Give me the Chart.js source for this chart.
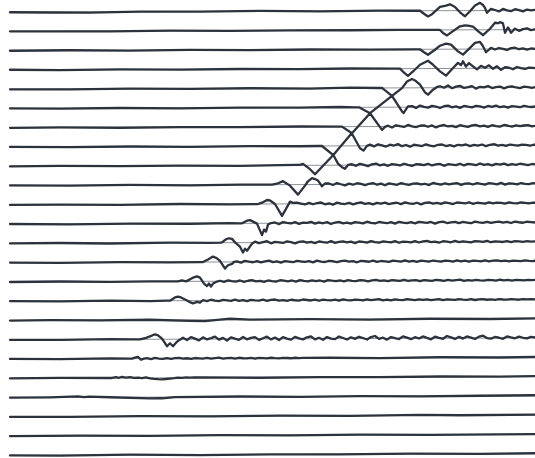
<!DOCTYPE html>
<html>
<head>
<meta charset="utf-8">
<script src="https://cdn.jsdelivr.net/npm/chart.js@4.4.1/dist/chart.umd.min.js"></script>
<style>
  html, body { margin: 0; padding: 0; background: #ffffff; }
  #wrap { width: 535px; height: 458px; }
</style>
</head>
<body>
<div id="wrap"><canvas id="c" width="535" height="458"></canvas></div>
<script>
// ---- DATA: 24 traces of a seismic record (trace 1 at top) ----
// times in ms, amplitudes in counts (positive = up)

// slow background undulation of each trace [time, amplitude]
const wobble = [
  [[10,0],[50,-0.4],[90,-0.6],[140,0.2],[200,0],[260,0.4],[320,-0.2],[380,0.3],[415,0]],
  [[10,0.2],[60,0],[110,-0.3],[170,0.3],[230,-0.2],[290,0.2],[350,0],[400,0.3],[435,0]],
  [[10,0],[70,0.3],[130,-0.2],[190,0.2],[250,-0.3],[310,0.2],[370,-0.2],[415,0]],
  [[10,0.3],[60,-0.2],[120,0.3],[180,-0.3],[240,0.2],[300,-0.2],[350,0.3],[395,0]],
  [[10,0],[70,-0.3],[130,0.3],[190,-0.2],[250,0.2],[310,-0.3],[350,0.4],[378,0]],
  [[10,0.2],[60,-0.2],[120,0.2],[180,-0.4],[240,0.2],[300,0],[340,0.4],[356,0]],
  [[10,0],[60,0.3],[120,-0.3],[180,0.2],[240,-0.2],[300,0.3],[338,0]],
  [[10,0.2],[70,-0.2],[130,0.2],[190,-0.4],[250,0.2],[300,-0.2],[318,0]],
  [[10,0],[60,0.3],[120,-0.2],[180,0.2],[240,-0.3],[280,0.2],[297,0.4]],
  [[10,0.2],[70,-0.2],[130,0.3],[190,-0.3],[240,0.2],[268,0]],
  [[10,0],[60,0.2],[120,-0.3],[180,0.3],[230,-0.2],[255,0]],
  [[10,0.2],[70,-0.3],[130,0.2],[190,-0.2],[230,0.3],[240,0]],
  [[10,0],[60,0.3],[110,-0.4],[170,0.2],[210,-0.2],[220,0]],
  [[10,0.2],[60,-0.3],[120,0.3],[170,-0.2],[200,0]],
  [[10,0],[60,0.3],[110,-0.3],[150,0.2],[175,0]],
  [[10,0.2],[60,-0.2],[110,0.3],[150,-0.3],[167,0]],
  [[10,0],[50,0.3],[100,-0.2],[150,0.3],[190,-1],[205,-1.3],[220,0.2],[230,1],[250,0],[310,0.4],[370,-0.3],[430,0.3],[490,-0.2],[535,0.2]],
  [[10,0],[60,-0.3],[110,0.3],[137,0]],
  [[10,0.2],[60,-0.2],[110,0.3],[130,0],[330,0.2],[380,-0.3],[440,0.3],[500,-0.2],[535,0.2]],
  [[10,0],[60,0.3],[108,0],[200,0.3],[260,-0.3],[320,0.2],[380,-0.2],[440,0.3],[500,0],[535,0.3]],
  [[10,0],[50,0.2],[78,0.9],[84,0.2],[89,0.8],[110,0],[150,-1.3],[162,-1.2],[175,0],[240,0.3],[300,-0.2],[360,0.3],[420,-0.3],[480,0.2],[535,0.5]],
  [[10,0],[70,-0.3],[140,0.2],[210,-0.3],[280,0.2],[350,-0.2],[420,0.6],[460,0],[535,0.3]],
  [[10,0],[80,0.3],[150,-0.3],[220,0.2],[290,-0.2],[360,0.3],[430,-0.2],[535,0.2]],
  [[10,0],[60,-0.3],[130,0.3],[200,-0.3],[270,0.2],[340,-0.2],[410,0.3],[480,-0.2],[535,0.3]]
];

// first-arrival wavelets [time, amplitude]
const wavelets = [
  [[420,0],[424,-3],[428,-5.7],[432,-3.5],[435,-0.7],[440,3.7],[446,5],[450,6.3],[455,3.7],[460,-1.7],[465,-5.7],[470,-0.7],[475,5],[480,7.7],[483,5.5],[485,2.7],[487,-2.3],[491,1.7]],
  [[440,0],[443,-3],[447,-5.5],[453,-1.2],[460,3.6],[465,4.5],[468,4.2],[473,3.3],[478,-1.4],[483,-5.4],[490,1],[495,7],[498,6.5],[500,7.6],[503,6.3],[505,-3],[508,2.3],[511,-3]],
  [[420,0],[424,-3],[428,-5.5],[435,-0.5],[440,3.5],[446,5.5],[451,4.5],[458,-2.2],[463,-5.5],[470,1.2],[475,6.2],[480,7.2],[483,2.8],[486,-3.2],[491,1.2]],
  [[400,0],[404,-4],[408,-7.2],[413,-2.9],[420,3.8],[428,7.8],[433,3.8],[440,-2.9],[446,-7.2],[453,0.5],[458,5.5],[461,3.3],[463,7.1],[466,1.8],[469,5.3]],
  [[382,0],[392,-7.9],[402,-0.2],[407,6.4],[412,8.8],[415,7.4],[420,3.1],[425,-4.6],[428,-6.9],[433,-1.9],[437,0.8]],
  [[359,0],[370,-5.9],[392,11.4],[402,-4.3],[403.5,-5.9],[408,0.7]],
  [[342,0],[352,-6.7],[370,13.3],[382,-3.4],[385,-0.4]],
  [[322,0],[333.3,-9.1],[351.7,12.6],[360,-2.4],[363.5,-4.8],[367,0]],
  [[300,0.5],[303,1.5],[309,-3],[315,-9],[333.3,10.2],[338,1.6],[342,-2],[345,-3.6],[348,0.2]],
  [[272,0],[277,1],[283,3.5],[290,-1],[298,-10],[305,-1],[308,3.3],[312,6.5],[315,5.5],[318,4],[322,-1.7],[325,1]],
  [[258,0],[262,1.3],[267,4],[270,3.5],[275,0],[282,-12],[286,-5],[290,2.3],[293,1]],
  [[242,0],[247,2.7],[250,3.2],[253,1.7],[257,-0.3],[262,-11.8],[264,-6.3],[266,-8.3],[268,-1.3],[271,0.2]],
  [[222,0.4],[226,3.4],[229,4.4],[232,3.9],[235,0.2],[240,-4.1],[243,-9.8],[245,-6.1],[247,-8.1],[252,-1.1]],
  [[203,0],[208,2.5],[213,5.4],[217,3.7],[220,1],[225,-6.6],[228,-3.3],[232,-2],[234,0]],
  [[178,0],[182,1],[186,0],[190,2],[193,3.7],[197,5],[200,3.7],[204,-2.3],[207,-4.8],[209,-2.3],[211,-5.3],[213,-2.3],[217,-0.3]],
  [[170,0],[175,3.2],[178,4],[181,3.2],[187,0.2],[190,-1.5],[193,-2.8],[197,-1.3],[200,-2]],
  [],
  [[140,0],[146,1.5],[150,3],[155,5],[158,4],[162,0.7],[167,-7],[170,-4],[173,-7],[176,-3.5],[179,-1]],
  [[132,0],[135,1],[138,1.8],[141,-1.2],[144,0]],
  [[112,0],[116,0.8],[119,0.2],[122,1],[126,0.3],[130,0.9],[134,0]],
  [], [], [], []
];

// start time of the coda noise, sampled every 4 ms
const noiseStart = [495,515,495,473,440,412,388,370,352,329,297,275,255,237,220,203,null,183,147,138,null,null,null,null];
const noiseStep = 4;

// coda noise amplitudes
const noise = [
  [0.5,-1,1.5,0,-0.8,1.2,0.3,-1,0.8,0,0.5],
  [1,-1.2,0.5,1.3,-0.5,0.3],
  [-0.5,1,0.2,-1,0.8,1.2,-0.3,0.5,-0.8,0.4,0],
  [2,-1,2.5,0.5,3,-0.5,2,-1.5,1,0.5,-1,1.2,0,-0.8,0.6,0.2,-0.3],
  [1.5,0,2.2,-0.5,1,1.8,-0.3,0.5,1.5,-1,0.8,0.2,1.6,-0.5,0.4,1,-0.8,0.6,1.2,0,-0.6,0.8,0.3,-0.4,0.5],
  [1,-0.8,1.5,0.2,-0.6,1.2,0.5,-1,0.8,1.4,-0.3,0.6,-0.9,1,0.2,-0.5,1.1,0.4,-0.7,0.9,0,1.2,-0.4,0.5,-0.8,0.7,0.2,-0.5,0.9,0.1,-0.3,0.4],
  [0.8,-1,1.2,0.3,-0.5,1.5,0,-0.8,0.6,1,-0.4,0.9,-1.1,0.5,1.3,-0.2,0.4,-0.9,1,0.2,-0.6,0.8,1.2,-0.3,0.5,-0.7,0.9,0,-0.5,1.1,0.3,-0.6,0.7,-0.2,0.5,0.9,-0.4,0.2],
  [1.2,-0.6,1.5,0.4,-0.8,1,0.2,1.6,-0.5,0.7,-1,0.9,0.3,-0.4,1.3,0,-0.7,0.8,1.1,-0.5,0.4,-0.9,0.7,0.2,1,-0.6,0.5,-0.2,0.9,-0.8,0.6,1.2,-0.3,0.4,-0.6,0.8,0.1,-0.4,0.7,0.3,-0.5,0.6,0],
  [0.9,-0.7,1.3,0.2,-1,0.8,1.5,-0.4,0.6,-0.8,1,0.3,-0.5,1.2,0,-0.9,0.7,0.4,-0.3,1.1,-0.6,0.5,0.9,-1,0.6,0.2,-0.4,1,-0.7,0.8,0.3,-0.5,1.2,-0.2,0.5,-0.8,0.7,0,0.9,-0.5,0.4,-0.3,0.8,0.2,-0.6,0.5,0],
  [1,-0.5,1.4,0.2,-0.9,0.8,-0.3,1.2,0.5,-0.8,0.6,1.3,-0.4,0.7,-1,0.9,0.2,-0.5,1.1,0,-0.7,0.6,0.9,-0.3,0.4,-0.9,1.2,0.3,-0.6,0.8,-0.2,0.5,1,-0.8,0.4,0.7,-0.5,0.9,0.1,-0.6,0.8,0.3,-0.4,1,-0.7,0.5,0.2,-0.5,0.8,0,-0.3,0.6,0.2],
  [1.2,0.3,-0.6,1,-0.4,0.8,1.3,-0.5,0.4,-0.9,1.1,0.2,-0.3,0.9,-0.7,0.6,1.2,-0.2,0.5,-0.8,0.7,0,1,-0.5,0.3,0.8,-0.6,1.1,0.2,-0.4,0.7,-0.9,0.5,1,-0.3,0.6,-0.5,0.9,0.1,-0.7,0.8,0.4,-0.2,1,-0.6,0.5,0.2,-0.4,0.8,-0.2,0.6,0.3,-0.5,0.7,0,-0.3,0.6,0.2,-0.4,0.5,0.1],
  [0.8,-0.9,1.2,0.4,-0.3,1,-0.7,0.6,0.2,1.3,-0.5,0.7,-0.2,0.9,-1,0.5,1.1,-0.3,0.4,-0.7,0.8,0.2,-0.5,1.2,0,-0.6,0.9,0.3,-0.4,0.7,-0.8,1,0.2,-0.3,0.6,-0.6,0.9,0.4,-0.2,0.7,-0.9,0.5,1,-0.4,0.3,0.8,-0.5,0.6,0,-0.7,0.9,0.2,-0.3,0.7,-0.5,0.4,0.8,-0.2,0.5,-0.6,0.7,0.1,-0.4,0.6,0.2,-0.2],
  [1,-0.6,0.4,1.3,-0.8,0.7,0.1,-0.5,1.1,0.3,-0.9,0.6,1,-0.3,0.5,-0.7,0.9,0.2,-0.4,1.2,-0.6,0.4,0.8,-0.2,0.6,-0.9,0.7,0.3,-0.5,1,0,-0.6,0.8,0.2,-0.3,0.9,-0.7,0.5,0.1,-0.4,0.8,-0.5,0.6,1,-0.2,0.3,-0.8,0.7,0.2,-0.4,0.9,-0.3,0.5,0,-0.6,0.7,0.3,-0.2,0.8,-0.5,0.4,0.1,-0.3,0.6,-0.4,0.5,0.2,-0.3,0.4,0,0.3],
  [0.6,-0.7,1,0.2,-0.4,0.8,-0.6,0.5,1.1,-0.3,0.3,-0.8,0.7,0.1,-0.5,0.9,0.2,-0.3,0.6,-0.7,1,0,-0.4,0.7,0.3,-0.6,0.5,0.9,-0.2,0.4,-0.8,0.6,0.2,-0.3,0.8,-0.5,0.4,0.1,-0.6,0.7,0.3,-0.2,0.9,-0.4,0.5,-0.7,0.6,0.2,-0.3,0.7,0,-0.5,0.6,0.3,-0.4,0.8,-0.2,0.4,-0.6,0.5,0.1,-0.3,0.7,-0.4,0.3,0.6,-0.2,0.4,-0.5,0.3,0.1,-0.3,0.5,0,-0.2,0.4],
  [0.5,-0.6,0.9,0.1,-0.4,0.7,-0.7,0.4,1,-0.2,0.3,-0.8,0.6,0,-0.5,0.8,0.3,-0.3,0.5,-0.6,0.9,0.1,-0.4,0.6,-0.2,0.4,-0.7,0.8,0.2,-0.3,0.5,-0.5,0.7,0,-0.4,0.6,0.3,-0.6,0.4,0.8,-0.2,0.3,-0.5,0.6,0.1,-0.3,0.7,-0.4,0.2,0.5,-0.6,0.4,0,-0.3,0.6,0.2,-0.4,0.5,-0.2,0.3,0.7,-0.5,0.2,-0.2,0.5,0,-0.4,0.4,0.2,-0.3,0.5,-0.1,0.3,-0.4,0.4,0.1,-0.2,0.3,0,0.2],
  [0.4,-0.5,0.8,0,-0.6,0.6,0.2,-0.3,0.9,-0.4,0.3,-0.7,0.6,0.1,-0.2,0.7,-0.5,0.4,0.8,-0.3,0.2,-0.6,0.5,0,-0.4,0.7,0.2,-0.3,0.5,-0.6,0.6,0.1,-0.2,0.4,-0.5,0.7,0,-0.3,0.5,0.2,-0.4,0.6,-0.2,0.3,0.8,-0.4,0.2,-0.5,0.5,0,-0.3,0.6,0.2,-0.4,0.4,-0.1,0.5,-0.3,0.2,0.6,-0.4,0.3,0,-0.3,0.5,0.1,-0.2,0.4,-0.4,0.3,0.5,-0.2,0.2,-0.3,0.4,0,-0.2,0.3,0.1,-0.3,0.4,0,0.2,0],
  null,
  [1.5,-0.8,2,0.5,-1.2,1.8,-0.3,0.9,2.4,-0.6,1.2,-1.5,1.6,0.3,-0.9,2,-0.4,1,1.8,-1,0.6,2.2,-0.5,1.3,-1.2,1.7,0.2,-0.8,1.9,0.4,-0.6,1.4,2.3,-0.7,0.9,-1.1,1.6,0.1,-0.5,2.1,0.6,-0.9,1.3,-0.3,1.8,0.5,-1,1.5,2.5,-0.4,0.8,-1.2,1.4,0.2,-0.6,2,0.7,-0.8,1.2,-0.2,1.9,0.4,-1,1.6,0.3,-0.5,2.2,0.8,-0.7,1.3,-0.4,1.7,0.5,-0.9,1.5,2.4,0,-0.6,1.1,0.3,-0.8,1.6,0.6,-0.3,1.3,0.2,-0.5,1,0.4],
  [0.4,-0.5,0.6,0,-0.3,0.5,-0.4,0.3,0.6,-0.2,0.2,-0.5,0.4,0.1,-0.3,0.5,-0.2,0.3,0.6,-0.4,0.1,0.4,-0.3,0.5,0,-0.2,0.4,-0.4,0.3,0.1,-0.2,0.4,0,-0.3,0.3,0.1,-0.2,0.3,0,0.1],
  [0.3,-0.2,0.4,-0.5,-1,-1.4,-1.5,-1.2,-0.8,-0.4,0.2,-0.2,0.3,0,0.2]
];

// ---- rendering constants ----
const NTRACE = 24;
const GAIN = 1 / 19.27;      // counts -> trace spacing
const TILT = 0.0036;         // slight skew of the scanned record
const TILT_REF = 350;

function toY(k, t, a) {
  return (k + 1) - (a + TILT * (t - TILT_REF)) * GAIN;
}

function tracePoints(k) {
  const wb = wobble[k], wv = wavelets[k], nz = noise[k], ns = noiseStart[k];
  let pts = [];
  if (!wv.length) {
    pts = wb.slice();
  } else {
    const first = wv[0][0];
    wb.forEach(p => { if (p[0] < first) pts.push(p); });
    wv.forEach(p => pts.push(p));
    let last = wv[wv.length - 1][0];
    if (nz && nz.length) {
      nz.forEach((a, i) => pts.push([ns + noiseStep * i, a]));
      last = ns + noiseStep * (nz.length - 1);
    }
    wb.forEach(p => { if (p[0] > last) pts.push(p); });
  }
  return pts.map(p => ({ x: p[0], y: toY(k, p[0], p[1]) }));
}

const datasets = [];
for (let k = 0; k < NTRACE; k++) {
  datasets.push({
    data: [{ x: 10, y: toY(k, 10, 0) }, { x: 535, y: toY(k, 535, 0) }],
    borderColor: '#8e9298',
    borderWidth: 1,
    pointRadius: 0,
    showLine: true,
    order: 2
  });
}
for (let k = 0; k < NTRACE; k++) {
  datasets.push({
    data: tracePoints(k),
    borderColor: '#2c333d',
    borderWidth: 2.3,
    pointRadius: 0,
    showLine: true,
    tension: 0,
    borderJoinStyle: 'round',
    borderCapStyle: 'round',
    order: 1
  });
}

new Chart(document.getElementById('c'), {
  type: 'scatter',
  data: { datasets },
  options: {
    responsive: false,
    devicePixelRatio: 1,
    animation: false,
    layout: { padding: 0 },
    plugins: { legend: { display: false }, tooltip: { enabled: false } },
    events: [],
    scales: {
      x: { type: 'linear', min: 0, max: 535, display: false },
      y: { type: 'linear', min: 0.429, max: 24.197, reverse: true, display: false }
    }
  }
});
</script>
</body>
</html>
